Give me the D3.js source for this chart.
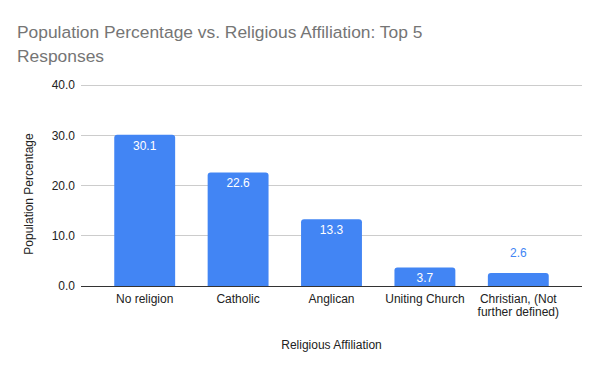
<!DOCTYPE html>
<html>
<head>
<meta charset="utf-8">
<script src="https://cdn.jsdelivr.net/npm/d3@7"></script>
<style>
  body { margin: 0; background: #fff; }
  text { font-family: Arial, "Liberation Sans", sans-serif; }
</style>
</head>
<body>
<svg id="chart"></svg>
<script>
const categories = ["No religion", "Catholic", "Anglican", "Uniting Church", "Christian, (Not further defined)"];
const categoryLines = [["No religion"], ["Catholic"], ["Anglican"], ["Uniting Church"], ["Christian, (Not", "further defined)"]];
const values = [30.1, 22.6, 13.3, 3.7, 2.6];
const yTicks = [0, 10, 20, 30, 40];

const width = 600;
const height = 371;
const plotLeft = 81, plotRight = 582, plotTop = 85, plotBottom = 286;

const svg = d3.select('#chart')
  .attr('width', width)
  .attr('height', height);

svg.append('rect').attr('width', width).attr('height', height).attr('fill', '#fff');

// scales
const x = d3.scaleBand()
  .domain(categories)
  .range([98, 565])
  .paddingInner(0.348)
  .paddingOuter(0.174);

const y = d3.scaleLinear()
  .domain([0, 40])
  .range([plotBottom, plotTop]);

// title
svg.append('text')
  .attr('x', 17).attr('y', 38)
  .attr('fill', '#757575')
  .style('font-size', '17.4px')
  .selectAll('tspan')
  .data(["Population Percentage vs. Religious Affiliation: Top 5", "Responses"])
  .enter().append('tspan')
  .attr('x', 17)
  .attr('dy', (d, i) => i === 0 ? 0 : 24)
  .text(d => d);

// gridlines
svg.append('g')
  .selectAll('line')
  .data(yTicks.filter(t => t > 0))
  .enter().append('line')
  .attr('x1', plotLeft).attr('x2', plotRight)
  .attr('y1', d => y(d)).attr('y2', d => y(d))
  .attr('stroke', '#cccccc').attr('stroke-width', 1)
  .attr('shape-rendering', 'crispEdges');

// y axis labels
const yAxis = svg.append('g')
  .attr('transform', `translate(${plotLeft}, 0)`)
  .call(d3.axisLeft(y).tickValues(yTicks).tickFormat(d3.format('.1f')).tickSize(0).tickPadding(6));
yAxis.select('.domain').remove();
yAxis.selectAll('text')
  .attr('fill', '#222')
  .style('font-size', '12px')
  .style('font-family', 'Arial, "Liberation Sans", sans-serif');

// bars with rounded top corners
const r = 3;
svg.append('g')
  .selectAll('path')
  .data(values)
  .enter().append('path')
  .attr('fill', '#4285f4')
  .attr('d', (d, i) => {
    const x0 = x(categories[i]), w = x.bandwidth();
    const yt = y(d), yb = y(0);
    const rr = Math.min(r, (yb - yt));
    return `M${x0},${yb}V${yt + rr}Q${x0},${yt} ${x0 + rr},${yt}H${x0 + w - rr}Q${x0 + w},${yt} ${x0 + w},${yt + rr}V${yb}Z`;
  });

// value labels
svg.append('g')
  .selectAll('text')
  .data(values)
  .enter().append('text')
  .attr('x', (d, i) => x(categories[i]) + x.bandwidth() / 2)
  .attr('y', d => (y(0) - y(d)) > 16 ? y(d) + 15 : y(d) - 16)
  .attr('text-anchor', 'middle')
  .attr('fill', d => (y(0) - y(d)) > 16 ? '#ffffff' : '#4285f4')
  .style('font-size', '12px')
  .text(d => d.toFixed(1));

// x axis baseline
svg.append('line')
  .attr('x1', plotLeft).attr('x2', plotRight)
  .attr('y1', y(0)).attr('y2', y(0))
  .attr('stroke', '#333').attr('stroke-width', 1)
  .attr('shape-rendering', 'crispEdges');

// x axis category labels
const xAxis = svg.append('g')
  .attr('transform', `translate(0, ${plotBottom})`)
  .call(d3.axisBottom(x).tickSize(0).tickFormat(''));
xAxis.select('.domain').remove();
xAxis.selectAll('.tick').each(function(d, i) {
  const t = d3.select(this).append('text')
    .attr('fill', '#222')
    .attr('text-anchor', 'middle')
    .style('font-size', '12px')
    .style('font-family', 'Arial, "Liberation Sans", sans-serif');
  categoryLines[i].forEach((line, j) => {
    t.append('tspan').attr('x', 0).attr('y', 17 + j * 13).text(line);
  });
});

// axis titles
svg.append('text')
  .attr('x', (plotLeft + plotRight) / 2)
  .attr('y', 349)
  .attr('text-anchor', 'middle')
  .attr('fill', '#222')
  .style('font-size', '12px')
  .text('Religious Affiliation');

svg.append('text')
  .attr('transform', `translate(33, 194) rotate(-90)`)
  .attr('text-anchor', 'middle')
  .attr('fill', '#222')
  .style('font-size', '12px')
  .text('Population Percentage');
</script>
</body>
</html>
